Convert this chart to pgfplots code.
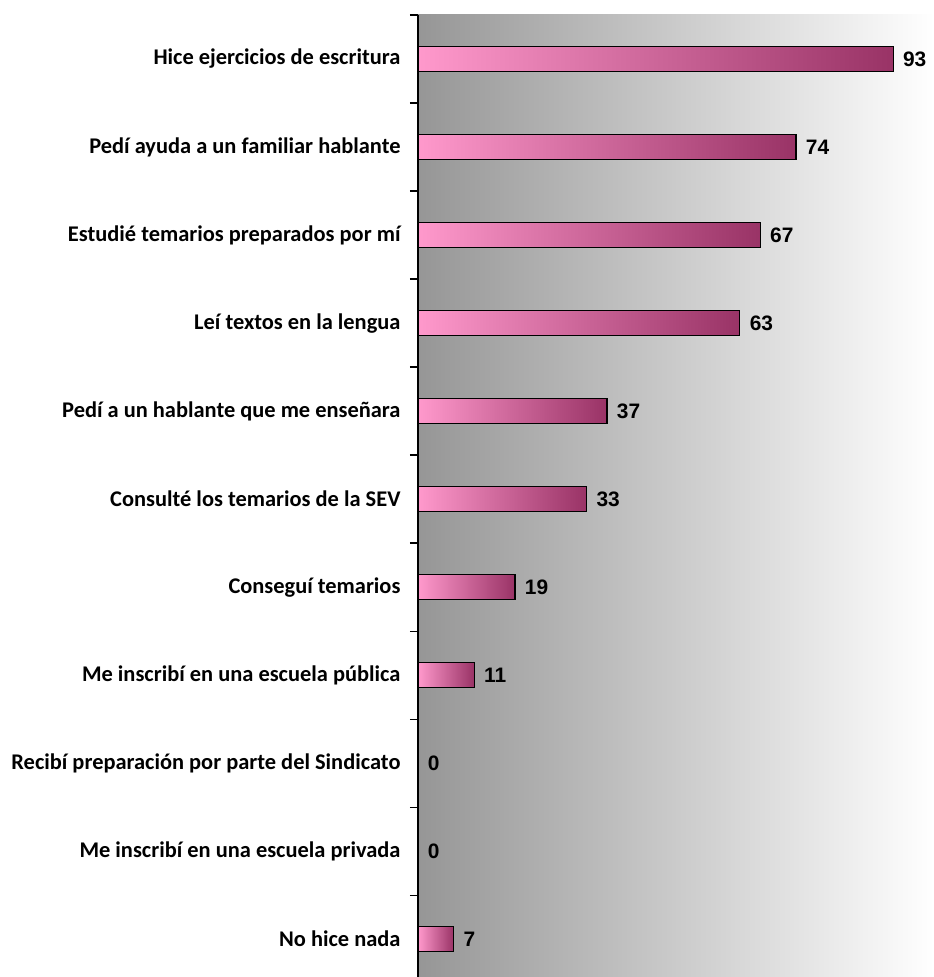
\documentclass[border=0pt]{standalone}
\usepackage{pgfplots}
\pgfplotsset{compat=1.18}
\usepackage{fontspec}
\setmainfont{Carlito}
\newfontfamily\valfont{Liberation Sans}
\definecolor{bgl}{RGB}{150,150,150}
\definecolor{barl}{RGB}{255,153,204}
\definecolor{barr}{RGB}{153,51,102}
\begin{document}
\begin{tikzpicture}
\begin{axis}[
  scale only axis, width=516bp, height=962bp,
  xbar, bar width=25bp, bar shift=0pt,
  xmin=0, xmax=101, ymin=-0.43, ymax=10.5,
  axis x line=none, axis y line=left,
  y axis line style={-, black, line width=1.2pt},
  ytick={0,1,2,3,4,5,6,7,8,9,10},
  yticklabels={No hice nada, Me inscribí en una escuela privada, Recibí preparación por parte del Sindicato, Me inscribí en una escuela pública, Conseguí temarios, Consulté los temarios de la SEV, Pedí a un hablante que me enseñara, Leí textos en la lengua, Estudié temarios preparados por mí, Pedí ayuda a un familiar hablante, Hice ejercicios de escritura},
  major tick length=0pt,
  minor ytick={-0.5,0.5,1.5,2.5,3.5,4.5,5.5,6.5,7.5,8.5,9.5,10.5},
  minor tick length=8bp, tick align=outside,
  minor tick style={black, line width=1.2pt},
  yticklabel style={font=\fontsize{22.5}{24}\selectfont\bfseries, xshift=-14bp},
  axis background/.style={left color=bgl, right color=white},
  /pgf/number format/assume math mode=true,
  nodes near coords,
  nodes near coords style={font=\valfont\fontsize{21}{24}\selectfont\bfseries, text=black, xshift=6bp},
  mybar/.style={xbar, draw=black, line width=1.2pt, left color=barl, right color=barr},
  clip=false,
]
\addplot[mybar] coordinates {(7,0)};
\addplot[mybar] coordinates {(0,1)};
\addplot[mybar] coordinates {(0,2)};
\addplot[mybar] coordinates {(11,3)};
\addplot[mybar] coordinates {(19,4)};
\addplot[mybar] coordinates {(33,5)};
\addplot[mybar] coordinates {(37,6)};
\addplot[mybar] coordinates {(63,7)};
\addplot[mybar] coordinates {(67,8)};
\addplot[mybar] coordinates {(74,9)};
\addplot[mybar] coordinates {(93,10)};
\coordinate (bl) at (rel axis cs:0,0);
\coordinate (tr) at (rel axis cs:1,1);
\end{axis}
\pgfresetboundingbox
\useasboundingbox ([xshift=-418bp]bl) rectangle ([yshift=15bp]tr);
\end{tikzpicture}
\end{document}
